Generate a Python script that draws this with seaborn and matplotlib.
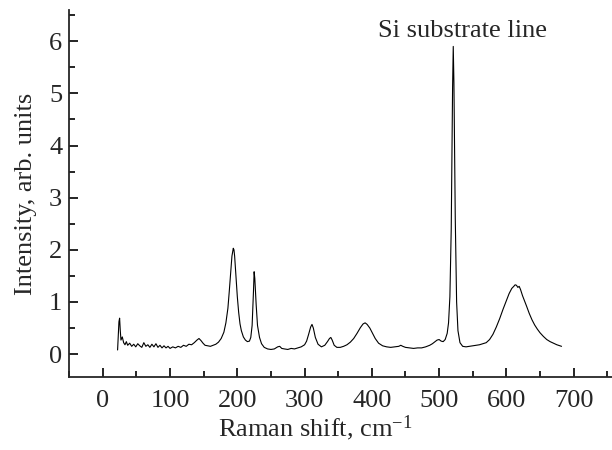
import numpy as np
import matplotlib
matplotlib.use("Agg")
import matplotlib.pyplot as plt
from matplotlib.ticker import MultipleLocator
import seaborn as sns

# Raman spectrum (cm^-1, arb. units)
shift = [22, 23, 24, 25, 26, 27, 29, 31, 33, 35, 37, 40, 43, 46, 49, 52, 55, 58, 61, 64,
         67, 70, 73, 76, 79, 82, 85, 88, 91, 94, 97, 100, 104, 108, 112, 116, 120, 124, 128, 132,
         136, 140, 143, 146, 149, 152, 156, 160, 164, 168, 172, 176, 180, 183, 186, 188, 190, 192, 194, 195,
         196, 198, 200, 202, 204, 206, 209, 212, 215, 218, 220, 222, 224, 225, 226, 228, 230, 233, 236, 240,
         245, 250, 255, 260, 263, 266, 270, 275, 280, 285, 290, 295, 300, 303, 306, 309, 311, 313, 316, 320,
         325, 330, 334, 337, 339, 341, 344, 348, 353, 358, 363, 368, 373, 378, 383, 387, 390, 393, 397, 401,
         405, 410, 416, 422, 428, 434, 440, 443, 446, 450, 456, 462, 468, 474, 480, 486, 490, 494, 497, 500,
         503, 506, 509, 512, 514, 516, 518, 519, 520, 521, 522, 524, 526, 528, 531, 535, 540, 545, 550, 555,
         560, 565, 570, 575, 580, 585, 590, 595, 600, 604, 608, 611, 613, 615, 617, 619, 621, 624, 627, 630,
         634, 638, 642, 646, 650, 655, 660, 665, 670, 675, 680, 682]
intensity = [0.08, 0.35, 0.62, 0.69, 0.45, 0.27, 0.33, 0.22, 0.18, 0.24, 0.17, 0.21, 0.15, 0.19, 0.14, 0.20, 0.16, 0.13, 0.22, 0.15,
             0.18, 0.13, 0.19, 0.14, 0.20, 0.13, 0.17, 0.12, 0.16, 0.12, 0.15, 0.11, 0.14, 0.12, 0.15, 0.13, 0.17, 0.15, 0.19, 0.18,
             0.22, 0.27, 0.30, 0.26, 0.21, 0.17, 0.16, 0.15, 0.17, 0.19, 0.23, 0.30, 0.42, 0.60, 0.88, 1.20, 1.55, 1.88, 2.03, 2.00,
             1.88, 1.50, 1.10, 0.80, 0.58, 0.45, 0.33, 0.27, 0.24, 0.25, 0.32, 0.55, 1.20, 1.58, 1.45, 0.95, 0.55, 0.32, 0.20, 0.13,
             0.10, 0.09, 0.10, 0.14, 0.15, 0.11, 0.10, 0.09, 0.11, 0.10, 0.12, 0.14, 0.18, 0.25, 0.38, 0.52, 0.57, 0.50, 0.32, 0.19,
             0.14, 0.17, 0.24, 0.30, 0.32, 0.27, 0.17, 0.13, 0.13, 0.15, 0.18, 0.23, 0.30, 0.40, 0.51, 0.58, 0.60, 0.57, 0.50, 0.40,
             0.30, 0.21, 0.16, 0.14, 0.13, 0.14, 0.15, 0.17, 0.15, 0.13, 0.12, 0.11, 0.12, 0.12, 0.14, 0.17, 0.20, 0.24, 0.27, 0.28,
             0.25, 0.24, 0.28, 0.40, 0.60, 1.10, 2.40, 3.80, 5.10, 5.90, 5.20, 2.60, 1.00, 0.45, 0.22, 0.15, 0.14, 0.15, 0.16, 0.17,
             0.18, 0.20, 0.22, 0.28, 0.38, 0.52, 0.68, 0.86, 1.03, 1.16, 1.26, 1.30, 1.33, 1.32, 1.28, 1.30, 1.24, 1.12, 1.02, 0.92,
             0.78, 0.66, 0.56, 0.48, 0.41, 0.34, 0.28, 0.24, 0.21, 0.18, 0.16, 0.15]

sns.set_style("ticks")
plt.rcParams['font.family'] = ['Liberation Serif', 'DejaVu Serif']
plt.rcParams['mathtext.fontset'] = 'custom'
plt.rcParams['mathtext.rm'] = 'Liberation Serif'
plt.rcParams['mathtext.it'] = 'Liberation Serif:italic'

fs = 19
fig = plt.figure(figsize=(6.12, 4.5), dpi=100)
ax = fig.add_axes([0.113, 0.162, 0.887, 0.816])

sns.lineplot(x=shift, y=intensity, color='black', linewidth=0.8, ax=ax)

ax.set_xlim(-50, 757)
ax.set_ylim(-0.44, 6.6)
ax.xaxis.set_major_locator(MultipleLocator(100))
ax.xaxis.set_minor_locator(MultipleLocator(50))
ax.yaxis.set_major_locator(MultipleLocator(1))
ax.yaxis.set_minor_locator(MultipleLocator(0.5))

sns.despine(ax=ax)
for side in ['left', 'bottom']:
    ax.spines[side].set_linewidth(1.3)
ax.tick_params(which='both', direction='in', width=1.2, labelsize=fs, color='black')
ax.tick_params(which='major', length=6.5)
ax.tick_params(which='minor', length=4)
ax.tick_params(axis='x', pad=9)
ax.tick_params(axis='y', pad=5)

ax.set_xlabel('Raman shift, cm$^{-1}$', fontsize=fs)
ax.set_ylabel('Intensity, arb. units', fontsize=fs)
ax.xaxis.set_label_coords((315 - 69) / 543, -0.1)
ax.yaxis.set_label_coords(-0.06, 0.5)

# label sits above the Si peak
ax.text(535, 6.2, 'Si substrate line', fontsize=fs, ha='center', va='center')

fig.savefig('out.png', dpi=100)
